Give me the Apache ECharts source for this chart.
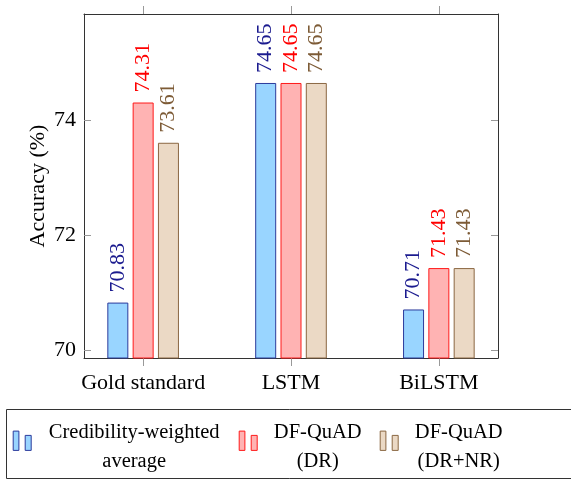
<!DOCTYPE html>
<html><head><meta charset="utf-8">
<script src="https://cdn.jsdelivr.net/npm/echarts@6/dist/echarts.min.js"></script>
<style>html,body{margin:0;padding:0;background:#fff;overflow:hidden}#c{width:571px;height:480px}</style>
</head><body><div id="c"></div>
<script>
const categories = ['Gold standard', 'LSTM', 'BiLSTM'];
const seriesNames = ['Credibility-weighted average', 'DF-QuAD (DR)', 'DF-QuAD (DR+NR)'];
const legendLines = [['Credibility-weighted', 'average'], ['DF-QuAD', '(DR)'], ['DF-QuAD', '(DR+NR)']];
const credibilityWeighted = [70.83, 74.65, 70.71];
const dfQuadDR = [74.31, 74.65, 71.43];
const dfQuadDRNR = [73.61, 74.65, 71.43];
const yTicks = [70, 72, 74];
const yAxisName = 'Accuracy (%)';

const FONT = 'Liberation Serif';
const styles = [
  { fill: '#99D5FF', border: '#2B3A9C', label: '#1B1B8F' },
  { fill: '#FFB3B3', border: '#FF1A1A', label: '#FF0000' },
  { fill: '#EBD9C5', border: '#8A6742', label: '#7D5B36' }
];
const allValues = [credibilityWeighted, dfQuadDR, dfQuadDRNR];
const xIdx = categories.map((c, i) => i);

const chart = echarts.init(document.getElementById('c'), null, { renderer: 'canvas' });

const xCommon = {
  type: 'value', min: -0.4, max: 2.4,
  splitLine: { show: false },
  axisLine: { show: true, onZero: false, lineStyle: { color: '#333', width: 1 } }
};
const yCommon = {
  type: 'value', min: 69.866, max: 75.85,
  splitLine: { show: false },
  axisLine: { show: true, onZero: false, lineStyle: { color: '#333', width: 1 } },
  axisTick: { show: true, inside: true, length: 7, customValues: yTicks, lineStyle: { color: '#999' } }
};

const option = {
  animation: false,
  backgroundColor: '#fff',
  grid: { left: 84, top: 14, width: 414, height: 344 },
  xAxis: [
    Object.assign({}, xCommon, {
      position: 'bottom',
      axisTick: { show: true, inside: false, length: 8, customValues: xIdx, lineStyle: { color: '#999' } },
      axisLabel: { show: true, customValues: xIdx, margin: 14, fontFamily: FONT, fontSize: 22, color: '#000',
        formatter: v => categories[Math.round(v)] }
    }),
    Object.assign({}, xCommon, {
      position: 'top',
      axisTick: { show: true, inside: false, length: 8, customValues: xIdx, lineStyle: { color: '#999' } },
      axisLabel: { show: false }
    })
  ],
  yAxis: [
    Object.assign({}, yCommon, {
      position: 'left',
      name: yAxisName, nameLocation: 'middle', nameRotate: 90, nameGap: 46, nameMoveOverlap: false,
      nameTextStyle: { fontFamily: FONT, fontSize: 22, color: '#000', verticalAlign: 'middle' },
      axisLabel: { show: true, customValues: yTicks, margin: 8, fontFamily: FONT, fontSize: 22, color: '#000' }
    }),
    Object.assign({}, yCommon, {
      position: 'right',
      axisLabel: { show: false }
    })
  ],
  legend: {
    left: 12.7, top: 422, padding: 0, orient: 'horizontal', itemGap: 6.5,
    itemWidth: 18, itemHeight: 19.3,
    icon: 'path://M0,0H5.7V19.3H0ZM12,4.3H18V19.3H12Z',
    textStyle: {
      fontFamily: FONT, fontSize: 20.5, color: '#000', padding: [13, 0, 0, 0],
      rich: {
        a: { width: 196, align: 'center', fontFamily: FONT, fontSize: 20.5, lineHeight: 29.5, color: '#000' },
        b: { width: 111, align: 'center', fontFamily: FONT, fontSize: 20.5, lineHeight: 29.5, color: '#000' }
      }
    },
    formatter: name => {
      const i = seriesNames.indexOf(name);
      const k = i === 0 ? 'a' : 'b';
      return legendLines[i].map(l => '{' + k + '|' + l + '}').join('\n');
    },
    data: seriesNames.map((n, i) => ({
      name: n,
      itemStyle: { color: styles[i].fill, borderColor: styles[i].border, borderWidth: 1 }
    }))
  },
  series: allValues.map((vals, i) => ({
    type: 'bar',
    name: seriesNames[i],
    xAxisIndex: 0, yAxisIndex: 0,
    barWidth: 21, barGap: '20.5%',
    data: vals.map((v, j) => [xIdx[j], v]),
    itemStyle: { color: styles[i].fill, borderColor: styles[i].border, borderWidth: 1 },
    label: {
      show: true, position: 'top', rotate: 90, align: 'left', verticalAlign: 'middle', distance: 10,
      fontFamily: FONT, fontSize: 22, color: styles[i].label,
      formatter: p => p.value[1].toFixed(2)
    }
  }))
};
chart.setOption(option);

// Legend frame (open on the right, as in the original, which runs past the page edge)
const zr = chart.getZr();
const frame = new echarts.graphic.Polyline({
  shape: { points: [[640, 409.5], [6.5, 409.5], [6.5, 478.5], [640, 478.5]] },
  style: { fill: null, stroke: '#333', lineWidth: 1 },
  silent: true, z: 100
});
zr.add(frame);
</script></body></html>
